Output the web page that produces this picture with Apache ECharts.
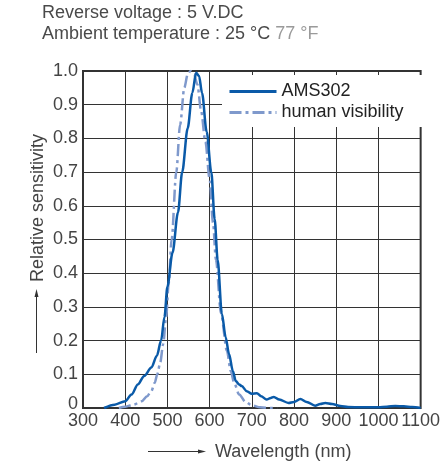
<!DOCTYPE html>
<html>
<head>
<meta charset="utf-8">
<script src="https://cdn.jsdelivr.net/npm/echarts@6/dist/echarts.min.js"></script>
<style>html,body{margin:0;padding:0;background:#fff}#c{width:443px;height:464px}</style>
</head>
<body>
<div id="c"></div>
<script>
// Data
const ams302Wavelength = [350,375,400,415,430,445,462,475,485,493,500,512,525,535,548,559,568,575,582,593,604,612,619,629,638,646,655,662,670,676,688,700,712,722,735,745,752,765,787,800,815,830,850,862,874,890,910,928,960,1000,1020,1040,1060,1080,1100];
const ams302Value = [0.0,0.01,0.02,0.04,0.07,0.095,0.12,0.155,0.2,0.27,0.36,0.46,0.58,0.70,0.83,0.935,0.995,0.985,0.935,0.82,0.70,0.56,0.44,0.28,0.21,0.16,0.11,0.08,0.07,0.065,0.05,0.042,0.044,0.035,0.025,0.03,0.033,0.025,0.015,0.018,0.027,0.018,0.007,0.012,0.015,0.012,0.006,0.003,0.002,0.002,0.004,0.006,0.005,0.003,0.0];
const humanWavelength = [385,400,420,439,452,462,470,476,483,490,497,503,510,521,530,540,548,555,563,571,580,590,600,608,615,627,641,650,658,670,685,700,720,745,760];
const humanValue = [0.0,0.004,0.01,0.02,0.035,0.05,0.075,0.10,0.135,0.19,0.27,0.37,0.50,0.70,0.84,0.95,0.99,1.0,0.99,0.96,0.88,0.79,0.68,0.55,0.44,0.28,0.17,0.11,0.075,0.04,0.018,0.008,0.002,0.0,0.0];
const seriesNames = ['AMS302','human visibility'];
const xTicks = {min:300, max:1100, interval:100};
const yTicks = {min:0, max:1, interval:0.1};
const titleLine1 = 'Reverse voltage : 5 V.DC';
const titleLine2a = 'Ambient temperature : 25 °C ';
const titleLine2b = '77 °F';
const xName = 'Wavelength (nm)';
const yName = 'Relative sensitivity';

const pair = (xs, ys) => xs.map((x, i) => [x, ys[i]]);
const FONT = '"Liberation Sans", Arial, Helvetica, sans-serif';
const chart = echarts.init(document.getElementById('c'), null, {renderer:'canvas'});
chart.setOption({
  animation: false,
  textStyle: {fontFamily: FONT},
  title: {
    left: 42, top: 3, padding: 0,
    text: titleLine1 + '\n' + titleLine2a + '{f|' + titleLine2b + '}',
    textStyle: {fontSize: 18, fontWeight: 'normal', color: '#4a4a4a', lineHeight: 21, fontFamily: FONT,
      rich: {f: {fontSize: 18, color: '#9a9a9a', lineHeight: 21, fontFamily: FONT}}}
  },
  grid: {left: 83, right: 20, top: 71, bottom: 56, show: true, borderColor: '#333', borderWidth: 2, backgroundColor: 'transparent'},
  legend: {
    left: 222, top: 75, orient: 'vertical', backgroundColor: '#fff',
    padding: [6, 28, 4, 6], itemGap: 0, itemWidth: 47, itemHeight: 14,
    itemStyle: {color: 'rgba(0,0,0,0)', borderColor: 'rgba(0,0,0,0)', borderWidth: 0},
    lineStyle: {width: 3},
    textStyle: {fontSize: 18, color: '#222', lineHeight: 21, fontFamily: FONT},
    data: seriesNames
  },
  xAxis: {
    type: 'value', min: xTicks.min, max: xTicks.max, interval: xTicks.interval,
    axisLine: {show: false}, axisTick: {show: false},
    axisLabel: {fontSize: 18, color: '#444', margin: 4, fontFamily: FONT, showMinLabel: true, showMaxLabel: true,
      hideOverlap: false, formatter: v => String(v)},
    splitLine: {show: true, lineStyle: {color: '#333', width: 1}}
  },
  yAxis: {
    type: 'value', min: yTicks.min, max: yTicks.max, interval: yTicks.interval,
    axisLine: {show: false}, axisTick: {show: false},
    axisLabel: {fontSize: 18, color: '#444', margin: 5, fontFamily: FONT,
      formatter: v => v === 0 ? '{z|0}' : v.toFixed(1),
      rich: {z: {fontSize: 18, color: '#444', fontFamily: FONT, padding: [0, 0, 8, 0]}}},
    splitLine: {show: true, lineStyle: {color: '#333', width: 1}}
  },
  series: [
    {name: seriesNames[0], type: 'line', data: pair(ams302Wavelength, ams302Value), symbol: 'none',
     smooth: 0.3, smoothMonotone: 'x', lineStyle: {color: '#0a5aa8', width: 2.5}, itemStyle: {color: '#0a5aa8'}, z: 3},
    {name: seriesNames[1], type: 'line', data: pair(humanWavelength, humanValue), symbol: 'none',
     smooth: 0.3, smoothMonotone: 'x', lineStyle: {color: '#7f99cc', width: 2.5, type: [12, 4, 3, 4]}, itemStyle: {color: '#7f99cc'}, z: 2}
  ],
  graphic: [
    {type: 'text', x: 38, y: 208, rotation: Math.PI / 2,
     style: {text: yName, font: '18px ' + FONT, fill: '#444', textAlign: 'center', textVerticalAlign: 'middle'}},
    {type: 'line', shape: {x1: 36.5, y1: 353, x2: 36.5, y2: 294}, style: {stroke: '#333', lineWidth: 1}},
    {type: 'polygon', shape: {points: [[36.5, 289], [34.5, 297], [38.5, 297]]}, style: {fill: '#333'}},
    {type: 'line', shape: {x1: 148, y1: 451.5, x2: 201, y2: 451.5}, style: {stroke: '#333', lineWidth: 1}},
    {type: 'polygon', shape: {points: [[206, 451.5], [198, 449.5], [198, 453.5]]}, style: {fill: '#333'}},
    {type: 'text', x: 215, y: 452,
     style: {text: xName, font: '18px ' + FONT, fill: '#444', textAlign: 'left', textVerticalAlign: 'middle'}}
  ]
});
</script>
</body>
</html>
